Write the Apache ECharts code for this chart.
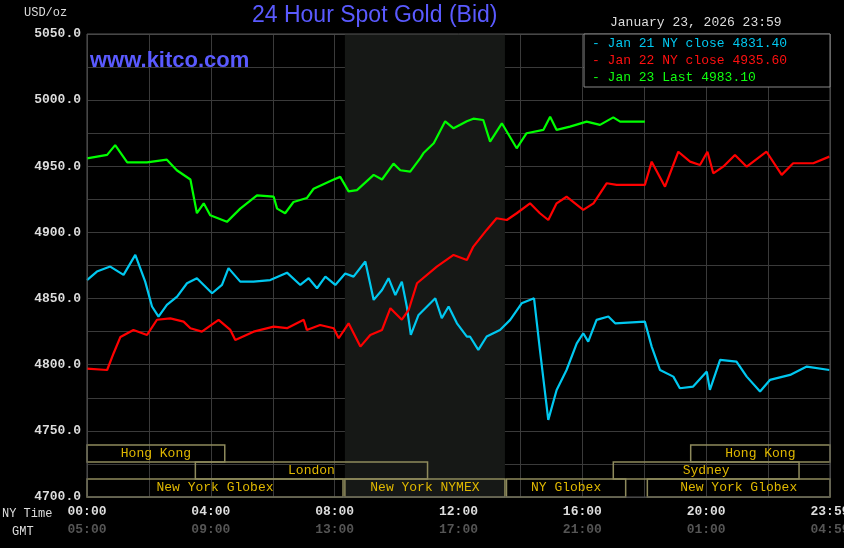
<!DOCTYPE html>
<html>
<head>
<meta charset="utf-8">
<script src="https://cdn.jsdelivr.net/npm/echarts@6/dist/echarts.min.js"></script>
<style>html,body{margin:0;background:#000}#main{width:844px;height:548px}</style>
</head>
<body>
<div id="main"></div>
<script>
// hours (NY time) and bid prices
const blueHours = [0,0.32,0.75,1.18,1.56,1.88,2.1,2.31,2.58,2.91,3.23,3.55,4.04,4.36,4.57,4.95,5.38,5.92,6.46,6.89,7.16,7.43,7.7,8.02,8.34,8.61,8.99,9.26,9.53,9.74,9.96,10.17,10.33,10.46,10.71,11.25,11.46,11.68,11.95,12.27,12.37,12.64,12.91,13.34,13.67,14.04,14.44,14.63,14.9,15.17,15.49,15.82,16.03,16.19,16.46,16.84,17.06,18.02,18.24,18.51,18.94,19.15,19.58,20.02,20.12,20.45,20.98,21.31,21.74,22.06,22.71,23.25,23.98];
const bluePrices = [4864,4870.4,4874.2,4867.9,4883,4862.8,4844,4836.4,4845.2,4851.5,4861.6,4865.4,4854,4860.3,4873,4862.8,4862.8,4864,4869.6,4860.3,4865.4,4857.8,4866.6,4860.3,4869,4866.6,4878,4849,4856.5,4865.4,4852.7,4862.8,4844,4822.5,4837.6,4850.2,4835.1,4844,4831.3,4821.3,4821.3,4811.2,4821.3,4826.3,4833.9,4846.4,4850.2,4811.2,4758.3,4780.9,4796,4816.2,4823.8,4817.5,4833.9,4836.4,4831.3,4832.6,4813.7,4796,4791,4782.2,4783.5,4794.8,4781,4803.6,4802.4,4791,4779.7,4788.5,4792.3,4798.6,4796];
const redHours = [0,0.65,0.86,1.08,1.5,1.94,2.26,2.69,3.12,3.34,3.71,4.25,4.63,4.79,5.38,6.03,6.46,7.0,7.1,7.53,7.97,8.13,8.45,8.83,9.15,9.53,9.8,10.17,10.39,10.66,11.3,11.84,12.27,12.48,12.91,13.23,13.56,13.88,14.31,14.63,14.9,15.17,15.49,16.03,16.36,16.79,17.11,18.02,18.24,18.67,19.1,19.48,19.8,20.04,20.23,20.55,20.93,21.31,21.95,22.44,22.81,23.46,23.98];
const redPrices = [4797,4796,4808.7,4821,4826.3,4822.5,4834,4835,4832.6,4827.6,4825,4833.9,4826.3,4818.7,4825,4828.8,4827.6,4834,4826.3,4830,4827.6,4820,4831.3,4813.7,4822.5,4826.3,4842.7,4834,4841.4,4861.6,4874.2,4883,4879.2,4889.3,4901.9,4910.7,4909.4,4914.5,4922,4914.5,4909.4,4922,4927,4917,4922,4937.2,4935.9,4935.9,4953.5,4934.6,4961,4953.5,4951,4961,4944.7,4949.7,4958.6,4949.7,4961,4943.5,4952.3,4952.3,4957.3];
const greenHours = [0,0.65,0.91,1.3,1.94,2.58,2.9,3.34,3.55,3.77,3.98,4.52,4.95,5.49,6.03,6.14,6.4,6.67,7.1,7.32,7.97,8.18,8.45,8.72,9.26,9.53,9.9,10.12,10.44,10.76,10.87,11.2,11.57,11.84,12.27,12.48,12.8,13.02,13.4,13.88,14.2,14.74,14.96,15.17,15.6,16.14,16.57,17.0,17.22,18.02];
const greenPrices = [4956,4958.6,4966,4953,4953,4955,4947,4940,4914.5,4922,4913,4908,4918,4928,4927,4918,4914.5,4923,4926,4933,4940,4942,4931,4932,4943.5,4940,4952,4947,4946,4956,4960,4967.4,4984,4978.7,4984,4986,4985,4968.6,4982.5,4963.6,4975,4977.5,4987.5,4977.5,4980,4983.8,4981.3,4987,4983.8,4983.8];
const nyLabels = ['00:00','04:00','08:00','12:00','16:00','20:00','23:59'];
const gmtLabels = ['05:00','09:00','13:00','17:00','21:00','01:00','04:59'];
// sessions: [name, start hour, end hour, row]
const sessions = [
  ['Hong Kong', 0, 4.45, 2], ['Hong Kong', 19.5, 24, 2],
  ['London', 3.5, 11, 1], ['Sydney', 17, 23, 1],
  ['New York Globex', 0, 8.27, 0], ['New York NYMEX', 8.33, 13.5, 0],
  ['NY Globex', 13.55, 17.4, 0], ['New York Globex', 18.1, 24, 0]
];
const rowBounds = [[4700, 4713.6], [4713.6, 4726.5], [4726.5, 4739.4]];

const mono = 'Liberation Mono';
const zip = (h, p) => h.map((x, i) => [x, p[i]]);

const option = {
  backgroundColor: '#000',
  animation: false,
  grid: { left: 87, right: 14, top: 34, bottom: 51, containLabel: false, outerBoundsMode: 'none' },
  xAxis: {
    type: 'value', min: 0, max: 24, interval: 2,
    axisLine: { show: false }, axisTick: { show: false },
    splitLine: { lineStyle: { color: '#3a3a3a' } },
    axisLabel: {
      margin: 6, fontFamily: mono, lineHeight: 18, showMaxLabel: true,
      formatter: v => v % 4 ? '' : '{a|' + nyLabels[v / 4] + '}\n{b|' + gmtLabels[v / 4] + '}',
      rich: { a: { color: '#ddd', fontSize: 13, fontWeight: 'bold', fontFamily: mono },
              b: { color: '#555', fontSize: 13, fontWeight: 'bold', fontFamily: mono } }
    }
  },
  yAxis: {
    type: 'value', min: 4700, max: 5050, interval: 25,
    axisLine: { show: false }, axisTick: { show: false },
    splitLine: { lineStyle: { color: '#3a3a3a' } },
    axisLabel: {
      color: '#ddd', fontFamily: mono, fontSize: 13, fontWeight: 'bold', margin: 6,
      formatter: v => v % 50 ? '' : v.toFixed(1)
    }
  },
  graphic: [
    { type: 'rect', shape: { x: 87, y: 34, width: 743, height: 463 }, style: { fill: 'none', stroke: '#555', lineWidth: 1 }, z: 10 },
    { type: 'text', left: 24, top: 7, style: { text: 'USD/oz', fill: '#ddd', font: '12px ' + mono } },
    { type: 'text', left: 252, top: 4, style: { text: '24 Hour Spot Gold (Bid)', fill: '#5a5aff', font: '23px "Liberation Sans"' } },
    { type: 'text', left: 610, top: 16, style: { text: 'January 23, 2026 23:59', fill: '#ddd', font: '13px ' + mono } },
    { type: 'text', left: 90, top: 50, style: { text: 'www.kitco.com', fill: '#5a5aff', font: 'bold 22px "Liberation Sans"' }, z: 10 },
    { type: 'rect', shape: { x: 584, y: 34, width: 246, height: 53 }, style: { fill: '#000', stroke: '#888', lineWidth: 1 }, z: 10 },
    { type: 'text', left: 592, top: 37, style: { text: '- Jan 21 NY close 4831.40', fill: '#00c8f0', font: '13px ' + mono }, z: 11 },
    { type: 'text', left: 592, top: 54, style: { text: '- Jan 22 NY close 4935.60', fill: '#ff1010', font: '13px ' + mono }, z: 11 },
    { type: 'text', left: 592, top: 71, style: { text: '- Jan 23 Last 4983.10', fill: '#10ff10', font: '13px ' + mono }, z: 11 },
    { type: 'text', left: 2, top: 508, style: { text: 'NY Time', fill: '#ddd', font: '12px ' + mono } },
    { type: 'text', left: 12, top: 526, style: { text: 'GMT', fill: '#ddd', font: '12px ' + mono } }
  ],
  series: [
    {
      type: 'line', data: [], silent: true,
      markArea: {
        silent: true,
        itemStyle: { color: '#161816' },
        data: [[{ xAxis: 8.33 }, { xAxis: 13.5 }]]
      }
    },
    { type: 'line', data: zip(blueHours, bluePrices), showSymbol: false, lineStyle: { color: '#00c8f0', width: 2.2 }, itemStyle: { color: '#00c8f0' }, z: 3 },
    { type: 'line', data: zip(redHours, redPrices), showSymbol: false, lineStyle: { color: '#ff0000', width: 2.2 }, itemStyle: { color: '#ff0000' }, z: 3 },
    { type: 'line', data: zip(greenHours, greenPrices), showSymbol: false, lineStyle: { color: '#00ff00', width: 2.2 }, itemStyle: { color: '#00ff00' }, z: 3 },
    {
      type: 'line', data: [], silent: true, z: 4,
      markArea: {
        silent: true,
        itemStyle: { color: 'rgba(0,0,0,0)', borderColor: '#8e8a5c', borderWidth: 1.5 },
        label: { show: true, position: 'inside', color: '#e0b800', fontFamily: mono, fontSize: 13 },
        data: sessions.map(s => [
          { name: s[0], xAxis: s[1], yAxis: rowBounds[s[3]][0] },
          { xAxis: s[2], yAxis: rowBounds[s[3]][1] }
        ])
      }
    }
  ]
};

const chart = echarts.init(document.getElementById('main'));
chart.setOption(option);
</script>
</body>
</html>
